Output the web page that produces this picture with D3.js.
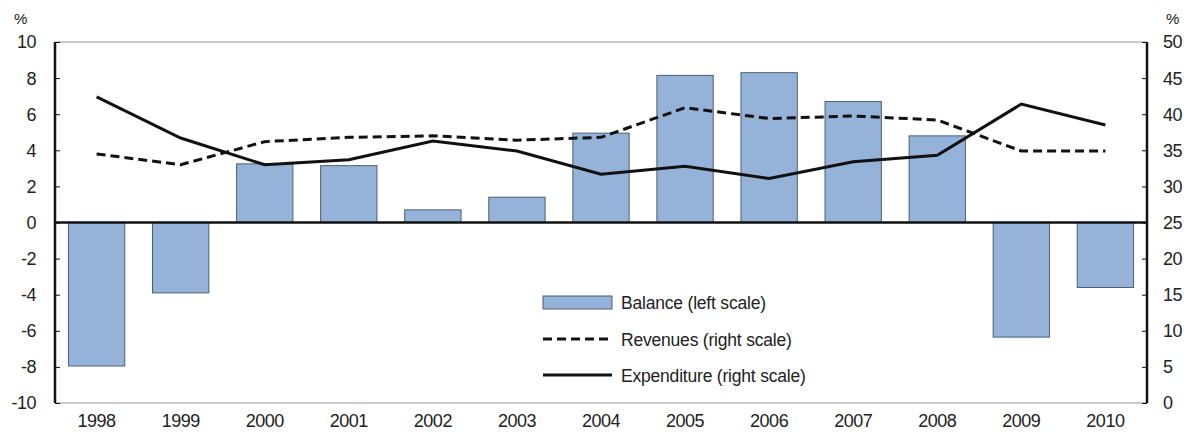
<!DOCTYPE html>
<html>
<head>
<meta charset="utf-8">
<script src="https://cdn.jsdelivr.net/npm/d3@7"></script>
<style>
  body { margin: 0; background: #fff; }
  svg text { font-family: "Liberation Sans", Arial, sans-serif; fill: #222; }
</style>
</head>
<body>
<script>
const years = ["1998","1999","2000","2001","2002","2003","2004","2005","2006","2007","2008","2009","2010"];
const balance = [-7.95, -3.9, 3.25, 3.15, 0.7, 1.4, 4.95, 8.15, 8.3, 6.7, 4.8, -6.35, -3.6];
const revenues = [34.5, 33.0, 36.2, 36.8, 37.0, 36.4, 36.8, 40.9, 39.4, 39.75, 39.2, 34.9, 34.9];
const expenditure = [42.4, 36.7, 33.0, 33.7, 36.3, 34.9, 31.7, 32.8, 31.1, 33.4, 34.3, 41.4, 38.5];
const leftTicks = [-10, -8, -6, -4, -2, 0, 2, 4, 6, 8, 10];
const rightTicks = [0, 5, 10, 15, 20, 25, 30, 35, 40, 45, 50];
const legendItems = ["Balance (left scale)", "Revenues (right scale)", "Expenditure (right scale)"];

const W = 1191, H = 432;
const plotL = 55, plotR = 1147, plotT = 42, plotB = 403;

const svg = d3.select("body").append("svg")
    .attr("width", W)
    .attr("height", H);

const x = d3.scaleBand().domain(years).range([plotL, plotR]).paddingInner(0.33).paddingOuter(0.16);
const yL = d3.scaleLinear().domain([-10, 10]).range([plotB, plotT]);
const yR = d3.scaleLinear().domain([0, 50]).range([plotB, plotT]);

// frame top / bottom (grey)
svg.append("line").attr("x1", plotL).attr("x2", plotR).attr("y1", plotT).attr("y2", plotT)
    .style("stroke", "#b8b8b8").style("stroke-width", 1.5);
svg.append("line").attr("x1", plotL).attr("x2", plotR).attr("y1", plotB).attr("y2", plotB)
    .style("stroke", "#b8b8b8").style("stroke-width", 1.5);

// bars
svg.selectAll("rect.bar")
    .data(balance)
    .join("rect")
    .attr("class", "bar")
    .attr("x", (d, i) => x(years[i]))
    .attr("width", x.bandwidth())
    .attr("y", d => yL(Math.max(0, d)))
    .attr("height", d => Math.abs(yL(d) - yL(0)))
    .style("fill", "#95b3d9")
    .style("stroke", "#4e5d78")
    .style("stroke-width", 1);

// zero line
svg.append("line").attr("x1", plotL).attr("x2", plotR).attr("y1", yL(0)).attr("y2", yL(0))
    .style("stroke", "#111").style("stroke-width", 2.5);

const lineFn = d3.line()
    .x((d, i) => x(years[i]) + x.bandwidth() / 2)
    .y(d => yR(d));

svg.append("path")
    .style("fill", "none")
    .style("stroke", "#111")
    .style("stroke-width", 3)
    .style("stroke-dasharray", "9,5")
    .attr("d", lineFn(revenues));

svg.append("path")
    .style("fill", "none")
    .style("stroke", "#111")
    .style("stroke-width", 3)
    .attr("d", lineFn(expenditure));

// axes
const leftAxis = d3.axisRight(yL).tickValues(leftTicks).tickSize(5).tickFormat("");
const gL = svg.append("g").attr("transform", `translate(${plotL},0)`).call(leftAxis);
gL.select(".domain").remove();
gL.selectAll(".tick line").style("stroke", "#111");
svg.append("line").attr("x1", plotL).attr("x2", plotL).attr("y1", plotT).attr("y2", plotB)
    .style("stroke", "#111").style("stroke-width", 2.5);

const rightAxis = d3.axisLeft(yR).tickValues(rightTicks).tickSize(5).tickFormat("");
const gR = svg.append("g").attr("transform", `translate(${plotR},0)`).call(rightAxis);
gR.select(".domain").remove();
gR.selectAll(".tick line").style("stroke", "#111");
svg.append("line").attr("x1", plotR).attr("x2", plotR).attr("y1", plotT).attr("y2", plotB)
    .style("stroke", "#111").style("stroke-width", 2.5);

// tick labels
svg.selectAll("text.lt")
    .data(leftTicks)
    .join("text")
    .attr("class", "lt")
    .attr("x", 36)
    .attr("y", d => yL(d))
    .attr("dy", "0.36em")
    .attr("text-anchor", "end")
    .style("font-size", "18px")
    .style("letter-spacing", "-0.5px")
    .text(d => d);

svg.selectAll("text.rt")
    .data(rightTicks)
    .join("text")
    .attr("class", "rt")
    .attr("x", 1163)
    .attr("y", d => yR(d))
    .attr("dy", "0.36em")
    .attr("text-anchor", "start")
    .style("font-size", "18px")
    .style("letter-spacing", "-0.5px")
    .text(d => d);

svg.append("text").attr("x", 14).attr("y", 24).style("font-size", "15px").text("%");
svg.append("text").attr("x", 1166).attr("y", 24).style("font-size", "15px").text("%");

svg.selectAll("text.xl")
    .data(years)
    .join("text")
    .attr("class", "xl")
    .attr("x", d => x(d) + x.bandwidth() / 2)
    .attr("y", 427)
    .attr("text-anchor", "middle")
    .style("font-size", "18px")
    .style("letter-spacing", "-0.5px")
    .text(d => d);

// legend
const lg = svg.append("g").attr("transform", "translate(543,0)");
lg.append("rect").attr("x", 0).attr("y", 296).attr("width", 69).attr("height", 13)
    .style("fill", "#95b3d9").style("stroke", "#4e5d78").style("stroke-width", 1);
lg.append("line").attr("x1", 0).attr("x2", 69).attr("y1", 339).attr("y2", 339)
    .style("stroke", "#111").style("stroke-width", 3).style("stroke-dasharray", "9,5");
lg.append("line").attr("x1", 0).attr("x2", 69).attr("y1", 375).attr("y2", 375)
    .style("stroke", "#111").style("stroke-width", 3);
lg.selectAll("text")
    .data(legendItems)
    .join("text")
    .attr("x", 78)
    .attr("y", (d, i) => [303, 340, 376][i])
    .attr("dy", "0.36em")
    .style("font-size", "17.5px")
    .style("letter-spacing", "-0.2px")
    .text(d => d);
</script>
</body>
</html>
